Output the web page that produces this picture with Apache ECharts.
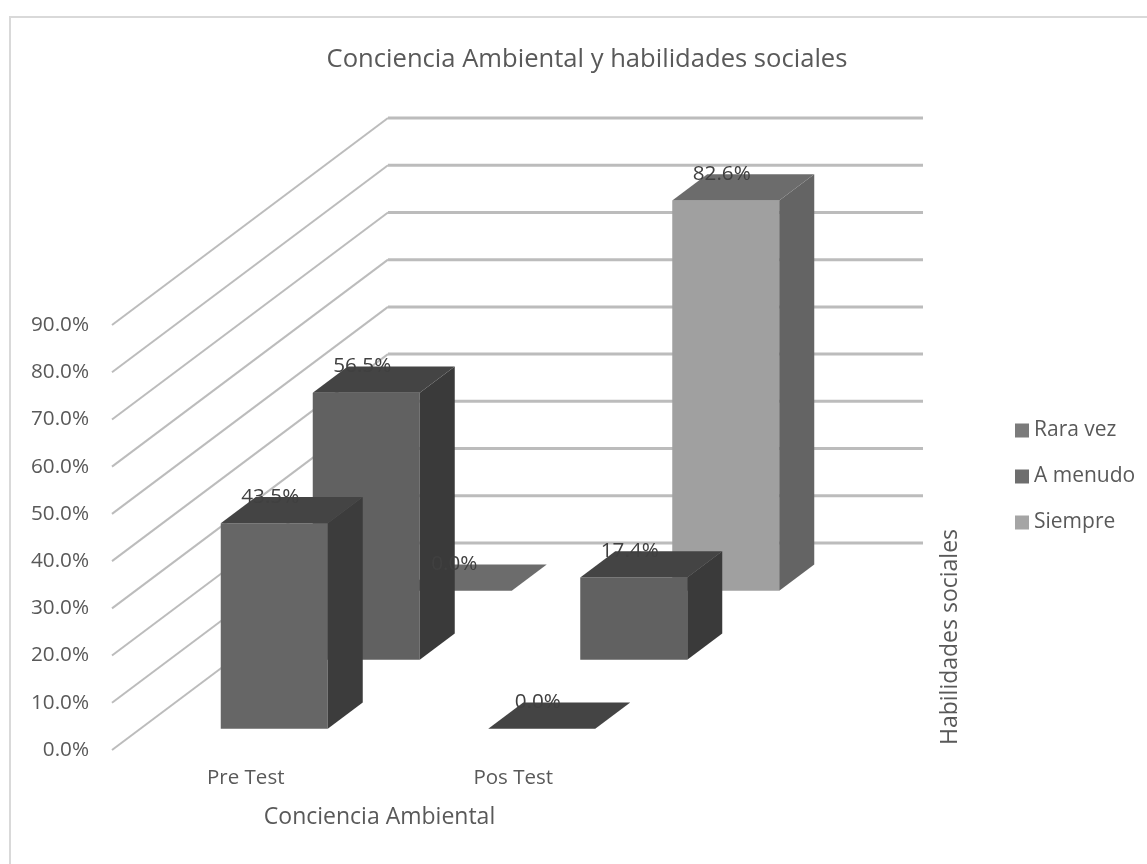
<!DOCTYPE html>
<html>
<head>
<meta charset="utf-8">
<style>html,body{margin:0;padding:0;background:#fff}#c{width:1147px;height:864px}</style>
<script src="https://cdn.jsdelivr.net/npm/echarts@6/dist/echarts.min.js"></script>
</head>
<body>
<div id="c"></div>
<script>
const categories = ['Pre Test', 'Pos Test'];
const seriesNames = ['Rara vez', 'A menudo', 'Siempre'];
const rara = [43.5, 0.0];
const menudo = [56.5, 17.4];
const siempre = [0.0, 82.6];
const yTicks = [0, 10, 20, 30, 40, 50, 60, 70, 80, 90];

const FONT = '"Open Sans", sans-serif';
const TEXT = '#595959';
const DEPTH_X = 276, DEPTH_Y = 207, BAR_DEPTH = 35 / 276;
const legendColors = ['#7b7b7b', '#6e6e6e', '#a5a5a5'];
const faces = [
  { front: '#666666', side: '#3c3c3c', top: '#444444' },
  { front: '#616161', side: '#3a3a3a', top: '#444444' },
  { front: '#a0a0a0', side: '#646464', top: '#6c6c6c' }
];
const project = (p, d) => [p[0] + d * DEPTH_X, p[1] - d * DEPTH_Y];

function barRenderer(slot) {
  const c = (2 * slot + 1) / 6, d0 = c - BAR_DEPTH / 2, d1 = c + BAR_DEPTH / 2;
  const f = faces[slot];
  return function (params, api) {
    const i = api.value(0), v = api.value(1);
    const top = api.coord([i, v]), base = api.coord([i, 0]);
    const hw = api.size([1, 0])[0] * 0.2;
    const TL = [top[0] - hw, top[1]], TR = [top[0] + hw, top[1]];
    const BL = [top[0] - hw, base[1]], BR = [top[0] + hw, base[1]];
    const poly = (pts, fill) => ({ type: 'polygon', shape: { points: pts }, style: { fill: fill } });
    const children = [];
    if (v > 0) {
      children.push(poly([project(BL, d0), project(BR, d0), project(TR, d0), project(TL, d0)], f.front));
      children.push(poly([project(BR, d0), project(BR, d1), project(TR, d1), project(TR, d0)], f.side));
    }
    children.push(poly([project(TL, d0), project(TR, d0), project(TR, d1), project(TL, d1)], f.top));
    return { type: 'group', children: children };
  };
}

function gridRenderer(params, api) {
  const v = api.value(0);
  const a = api.coord([0, v]);
  const left = params.coordSys.x, width = params.coordSys.width;
  const p0 = [left, a[1]];
  const p1 = project(p0, 1);
  const p2 = [p1[0] + width, p1[1]];
  return {
    type: 'group',
    children: [
      { type: 'polyline', shape: { points: [p0, p1] }, style: { stroke: '#bcbcbc', lineWidth: 2, fill: null } },
      { type: 'polyline', shape: { points: [p1, p2] }, style: { stroke: '#bcbcbc', lineWidth: 3, fill: null } }
    ]
  };
}

function labelRenderer(params, api) {
  const i = api.value(0), v = api.value(1), slot = api.value(2);
  const c = (2 * slot + 1) / 6, d0 = c - BAR_DEPTH / 2, d1 = c + BAR_DEPTH / 2;
  const top = api.coord([i, v]);
  const p = [project(top, d0)[0] - 4, project(top, d1)[1]];
  return {
    type: 'text', x: p[0], y: p[1],
    style: { text: v.toFixed(1) + '%', fill: '#404040', font: '20.7px ' + FONT, align: 'center', verticalAlign: 'middle' }
  };
}

const valueSets = [rara, menudo, siempre];
const barSeries = seriesNames.map((name, s) => ({
  type: 'custom', name: name, z: 4 - s + 1,
  renderItem: barRenderer(s),
  itemStyle: { color: legendColors[s] },
  encode: { x: 0, y: 1 },
  data: valueSets[s].map((v, i) => [i, v])
}));
const labelData = [];
valueSets.forEach((vals, s) => vals.forEach((v, i) => labelData.push([i, v, s])));

const chart = echarts.init(document.getElementById('c'));
chart.setOption({
  animation: false,
  backgroundColor: '#fff',
  title: {
    text: 'Conciencia Ambiental y habilidades sociales',
    left: 582, top: 42, textAlign: 'center',
    textStyle: { fontFamily: FONT, fontSize: 25.6, fontWeight: 'normal', color: TEXT }
  },
  legend: {
    orient: 'vertical', left: 1010, top: 415,
    data: seriesNames, itemWidth: 14, itemHeight: 14, itemGap: 25, icon: 'rect',
    selectedMode: false,
    textStyle: { fontFamily: FONT, fontSize: 21, color: TEXT }
  },
  grid: { left: 112, top: 325, width: 535, height: 425 },
  xAxis: {
    type: 'category', data: categories,
    axisLine: { show: false }, axisTick: { show: false }, splitLine: { show: false },
    axisLabel: { fontFamily: FONT, fontSize: 20.5, color: TEXT, margin: 18 },
    name: 'Conciencia Ambiental', nameLocation: 'middle', nameGap: 56,
    nameTextStyle: { fontFamily: FONT, fontSize: 23, color: TEXT }
  },
  yAxis: {
    type: 'value', min: 0, max: 90, interval: 10,
    axisLine: { show: false }, axisTick: { show: false }, splitLine: { show: false },
    axisLabel: { fontFamily: FONT, fontSize: 20.7, color: TEXT, margin: 23, formatter: v => v.toFixed(1) + '%' }
  },
  graphic: [
    { type: 'rect', silent: true, z: -1, shape: { x: 10, y: 17, width: 1300, height: 1000 },
      style: { fill: '#fff', stroke: '#d9d9d9', lineWidth: 2 } },
    { type: 'text', x: 950, y: 637, rotation: Math.PI / 2, z: 10,
      style: { text: 'Habilidades sociales', fill: TEXT, font: '23px ' + FONT, align: 'center', verticalAlign: 'middle' } }
  ],
  series: [
    { type: 'custom', name: 'grid', z: 1, renderItem: gridRenderer, data: yTicks.map(t => [t]), encode: { y: 0 } },
    ...barSeries,
    { type: 'custom', name: 'labels', z: 10, renderItem: labelRenderer, data: labelData, encode: { x: 0, y: 1 } }
  ]
});
</script>
</body>
</html>
